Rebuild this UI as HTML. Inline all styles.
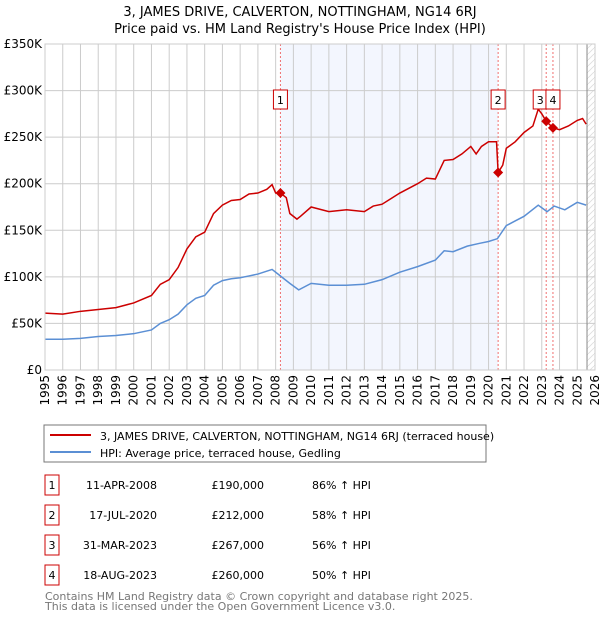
<!DOCTYPE html>
<html><head><meta charset="utf-8"><style>
body{margin:0;background:#fff;}
svg{display:block;font-family:"DejaVu Sans","Liberation Sans",sans-serif;}
</style></head><body>
<svg id="chart" width="600" height="620">
<defs><pattern id="hatch" width="6" height="6" patternUnits="userSpaceOnUse"><path d="M0,6 L6,0" stroke="#ddd" stroke-width="0.8"/></pattern></defs>
<text x="300" y="16" text-anchor="middle" font-size="13">3, JAMES DRIVE, CALVERTON, NOTTINGHAM, NG14 6RJ</text>
<text x="300" y="33" text-anchor="middle" font-size="13">Price paid vs. HM Land Registry's House Price Index (HPI)</text>
<g id="plot"></g>
<rect x="44" y="425" width="442" height="37" fill="#fff" stroke="#777"/>
<line x1="50" y1="435" x2="91" y2="435" stroke="#cc0000" stroke-width="2"/>
<text x="100" y="440" font-size="11">3, JAMES DRIVE, CALVERTON, NOTTINGHAM, NG14 6RJ (terraced house)</text>
<line x1="50" y1="452" x2="91" y2="452" stroke="#5b8fd4" stroke-width="2"/>
<text x="100" y="457" font-size="11">HPI: Average price, terraced house, Gedling</text>
<g id="table" font-size="11"></g>
<text x="45" y="600" font-size="11" fill="#777">Contains HM Land Registry data © Crown copyright and database right 2025.</text>
<text x="45" y="610" font-size="11" fill="#777">This data is licensed under the Open Government Licence v3.0.</text>
</svg>
<script>
const redYears=[1995,1996,1997,1998,1999,2000,2001,2001.5,2002,2002.5,2003,2003.5,2004,2004.5,2005,2005.5,2006,2006.5,2007,2007.5,2007.8,2008,2008.27,2008.6,2008.8,2009.2,2009.4,2010,2011,2012,2013,2013.5,2014,2014.5,2015,2016,2016.5,2017,2017.5,2018,2018.5,2019,2019.3,2019.6,2020,2020.45,2020.54,2020.8,2021,2021.5,2022,2022.5,2022.8,2023,2023.25,2023.63,2024,2024.5,2025,2025.3,2025.5];
const redValues=[61,60,63,65,67,72,80,92,97,110,130,143,148,168,177,182,183,189,190,194,199,190,190,185,168,162,165,175,170,172,170,176,178,184,190,200,206,205,225,226,232,240,232,240,245,245,212,220,238,245,255,262,280,275,267,260,258,262,268,270,264];
const hpiYears=[1995,1996,1997,1998,1999,2000,2001,2001.5,2002,2002.5,2003,2003.5,2004,2004.5,2005,2005.5,2006,2006.5,2007,2007.8,2008.2,2008.8,2009.3,2010,2011,2012,2013,2014,2015,2016,2017,2017.5,2018,2018.8,2019.5,2020,2020.5,2021,2021.5,2022,2022.8,2023.3,2023.7,2024.3,2025,2025.5];
const hpiValues=[33,33,34,36,37,39,43,50,54,60,70,77,80,91,96,98,99,101,103,108,102,93,86,93,91,91,92,97,105,111,118,128,127,133,136,138,141,155,160,165,177,170,176,172,180,177];
const saleYears=[2008.27,2020.54,2023.25,2023.63];
const saleValues=[190,212,267,260];
const saleLabels=["1","2","3","4"];
const saleDates=["11-APR-2008","17-JUL-2020","31-MAR-2023","18-AUG-2023"];
const salePrices=["£190,000","£212,000","£267,000","£260,000"];
const saleHpi=["86% ↑ HPI","58% ↑ HPI","56% ↑ HPI","50% ↑ HPI"];
const yTicks=[0,50,100,150,200,250,300,350];
const yTickLabels=["£0","£50K","£100K","£150K","£200K","£250K","£300K","£350K"];
const xTicks=[1995,1996,1997,1998,1999,2000,2001,2002,2003,2004,2005,2006,2007,2008,2009,2010,2011,2012,2013,2014,2015,2016,2017,2018,2019,2020,2021,2022,2023,2024,2025,2026];

const NS="http://www.w3.org/2000/svg";
const L=45,R=595,T=44,B=370;
const xs=y=>L+(y-1995)/(2026-1995)*(R-L);
const ys=v=>B-v/350*(B-T);
function mk(tag,attrs,parent){const e=document.createElementNS(NS,tag);for(const k in attrs)e.setAttribute(k,attrs[k]);parent.appendChild(e);return e;}
const g=document.getElementById('plot');
const shade=mk('rect',{x:xs(2008.27),y:T,width:xs(2020.54)-xs(2008.27),height:B-T,fill:'#f3f6fe'},g);


const hat=mk('rect',{x:xs(2025.55),y:T,width:R-xs(2025.55),height:B-T,fill:'url(#hatch)'},g);


yTicks.forEach((t,i)=>{
 const ln=mk('line',{x1:L,x2:R,y1:ys(t),y2:ys(t),stroke:'#ccc'},g);
 
 
 const tx=mk('text',{x:L-3,y:ys(t)+4,'text-anchor':'end','font-size':'12'},g);
 tx.textContent=yTickLabels[i];
 
 
});
xTicks.forEach(t=>{
 const ln=mk('line',{x1:xs(t),x2:xs(t),y1:T,y2:B,stroke:'#ccc'},g);
 
 
 const tx=mk('text',{x:0,y:0,'font-size':'12','text-anchor':'end',transform:`translate(${xs(t)+4},${B+5}) rotate(-90)`},g);
 tx.textContent=t;
 
 
});
const nowLine=mk('line',{x1:xs(2025.55),x2:xs(2025.55),y1:T,y2:B,stroke:'#888'},g);


saleYears.forEach(y=>{
 const v=mk('line',{x1:xs(y),x2:xs(y),y1:T,y2:B,stroke:'#f07070','stroke-dasharray':'2,2'},g);
 
 
});
const hp=mk('polyline',{points:hpiYears.map((y,i)=>xs(y)+','+ys(hpiValues[i])).join(' '),fill:'none',stroke:'#5b8fd4','stroke-width':1.5},g);


const rp=mk('polyline',{points:redYears.map((y,i)=>xs(y)+','+ys(redValues[i])).join(' '),fill:'none',stroke:'#cc0000','stroke-width':1.5},g);


saleYears.forEach((y,i)=>{
 const cx=xs(y),cy=ys(saleValues[i]);
 const d=mk('path',{d:`M${cx},${cy-5}L${cx+5},${cy}L${cx},${cy+5}L${cx-5},${cy}Z`,fill:'#cc0000'},g);
 
 
 const bx=mk('rect',{x:cx-(i==2?13:7),y:90,width:14,height:19,fill:'#fff',stroke:'#cc0000'},g);
 
 
 const t=mk('text',{x:cx-(i==2?6:0),y:104,'text-anchor':'middle','font-size':'11'},g);
 t.textContent=saleLabels[i];
 
 
});
const frame=mk('rect',{x:L,y:T,width:R-L,height:B-T,fill:'none',stroke:'#ccc'},g);


const tb=document.getElementById('table');
saleLabels.forEach((s,i)=>{
 const cy=485+i*30;
 const b=mk('rect',{x:45,y:cy-10,width:14,height:20,fill:'#fff',stroke:'#cc0000'},tb);
 
 
 const t0=mk('text',{x:52,y:cy+4,'text-anchor':'middle'},tb);t0.textContent=s;
 
 
 const t1=mk('text',{x:157,y:cy+4,'text-anchor':'end'},tb);t1.textContent=saleDates[i];
 
 
 const t2=mk('text',{x:264,y:cy+4,'text-anchor':'end'},tb);t2.textContent=salePrices[i];
 
 
 const t3=mk('text',{x:312,y:cy+4},tb);t3.textContent=saleHpi[i];
 
 
});
</script>
</body></html>
